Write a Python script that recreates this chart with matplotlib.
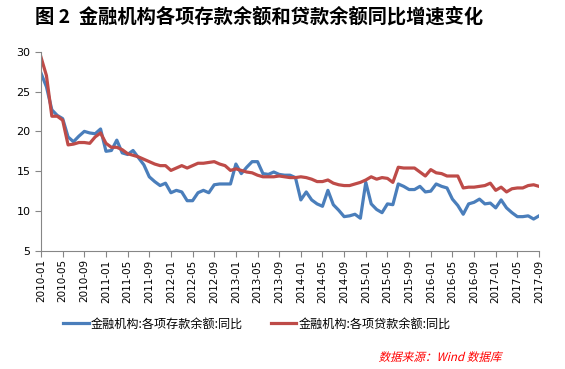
import matplotlib
matplotlib.use('Agg')
import matplotlib.pyplot as plt
import matplotlib.transforms as mtransforms
from matplotlib.textpath import TextPath
from matplotlib.patches import PathPatch
from matplotlib.font_manager import FontProperties
import pandas as pd

plt.rcParams['font.family'] = ['Noto Sans CJK SC', 'DejaVu Sans']
plt.rcParams['axes.unicode_minus'] = False

# 月份 2010-01 ~ 2017-09
months = pd.period_range('2010-01', '2017-09', freq='M').strftime('%Y-%m').tolist()

# 金融机构:各项存款余额:同比 (%)
deposit_yoy = [
    27.3, 25.6, 22.7, 22.0, 21.6, 19.3, 18.7, 19.4, 20.0, 19.8, 19.7, 20.3,
    17.5, 17.6, 18.9, 17.3, 17.1, 17.6, 16.7, 15.8, 14.3, 13.7, 13.2, 13.5,
    12.3, 12.6, 12.4, 11.3, 11.3, 12.3, 12.6, 12.3, 13.3, 13.4, 13.4, 13.4,
    15.9, 14.7, 15.5, 16.2, 16.2, 14.7, 14.6, 14.9, 14.6, 14.5, 14.5, 14.2,
    11.4, 12.4, 11.4, 10.9, 10.6, 12.6, 10.8, 10.1, 9.3, 9.4, 9.6, 9.1,
    13.6, 10.9, 10.2, 9.8, 10.9, 10.8, 13.4, 13.1, 12.7, 12.7, 13.1, 12.4,
    12.5, 13.4, 13.1, 12.9, 11.5, 10.7, 9.6, 10.9, 11.1, 11.5, 10.9, 11.0,
    10.4, 11.4, 10.4, 9.8, 9.3, 9.3, 9.4, 9.0, 9.4,
]

# 金融机构:各项贷款余额:同比 (%)
loan_yoy = [
    29.3, 27.0, 21.9, 21.9, 21.4, 18.3, 18.4, 18.6, 18.6, 18.5, 19.3, 19.8,
    18.5, 18.0, 18.0, 17.7, 17.2, 17.0, 16.8, 16.5, 16.2, 15.9, 15.7, 15.7,
    15.1, 15.4, 15.7, 15.4, 15.7, 16.0, 16.0, 16.1, 16.2, 15.9, 15.7, 15.1,
    15.3, 15.1, 14.9, 14.8, 14.5, 14.3, 14.3, 14.3, 14.4, 14.3, 14.2, 14.2,
    14.3, 14.2, 14.0, 13.7, 13.7, 13.9, 13.5, 13.3, 13.2, 13.2, 13.4, 13.6,
    13.9, 14.3, 14.0, 14.2, 14.1, 13.6, 15.5, 15.4, 15.4, 15.4, 14.9, 14.4,
    15.2, 14.8, 14.7, 14.4, 14.4, 14.4, 12.9, 13.0, 13.0, 13.1, 13.2, 13.5,
    12.6, 13.0, 12.4, 12.8, 12.9, 12.9, 13.2, 13.3, 13.1,
]

labels = ['金融机构:各项存款余额:同比', '金融机构:各项贷款余额:同比']
colors = ['#4A7EBB', '#BE4B48']

fig = plt.figure(figsize=(5.65, 3.69), dpi=100)
ax = fig.add_axes([0.0726, 0.320, 0.8814, 0.540])

x = list(range(len(months)))
ax.plot(x, deposit_yoy, color=colors[0], lw=2.3, label=labels[0], solid_joinstyle='round')
ax.plot(x, loan_yoy, color=colors[1], lw=2.3, label=labels[1], solid_joinstyle='round')

ax.set_xlim(0, len(months) - 1)
ax.set_ylim(5, 30)
ax.set_yticks(range(5, 31, 5))
ax.set_xticks(x[::4])
ax.set_xticklabels(months[::4], rotation=90, fontsize=7.5, family='DejaVu Sans')
ax.tick_params(axis='y', labelsize=8, length=4, color='#868686')
ax.tick_params(axis='x', length=4, color='#868686', pad=2)
for lab in ax.get_yticklabels():
    lab.set_family('DejaVu Sans')

for s in ['top', 'right']:
    ax.spines[s].set_visible(False)
for s in ['left', 'bottom']:
    ax.spines[s].set_color('#868686')

fig.text(0.062, 0.955, '图 2  金融机构各项存款余额和贷款余额同比增速变化',
         fontsize=13.9, fontweight='bold', va='center', ha='left')

fig.legend(loc='center', bbox_to_anchor=(0.455, 0.122), ncol=2, frameon=False,
           fontsize=8.7, handlelength=2.1, columnspacing=2.3, handletextpad=0.2)

# 数据来源（斜体，用文字路径做倾斜）
src = '数据来源：Wind 数据库'
tp = TextPath((0, 0), src, size=11.6, prop=FontProperties(family='Noto Sans CJK SC'))
w = tp.get_extents().x1
skew = mtransforms.Affine2D().skew_deg(14, 0).translate(501 - w, 8)
fig.patches.append(PathPatch(tp, transform=skew, color='#FF0000', lw=0))

fig.savefig('out.png', dpi=100)
